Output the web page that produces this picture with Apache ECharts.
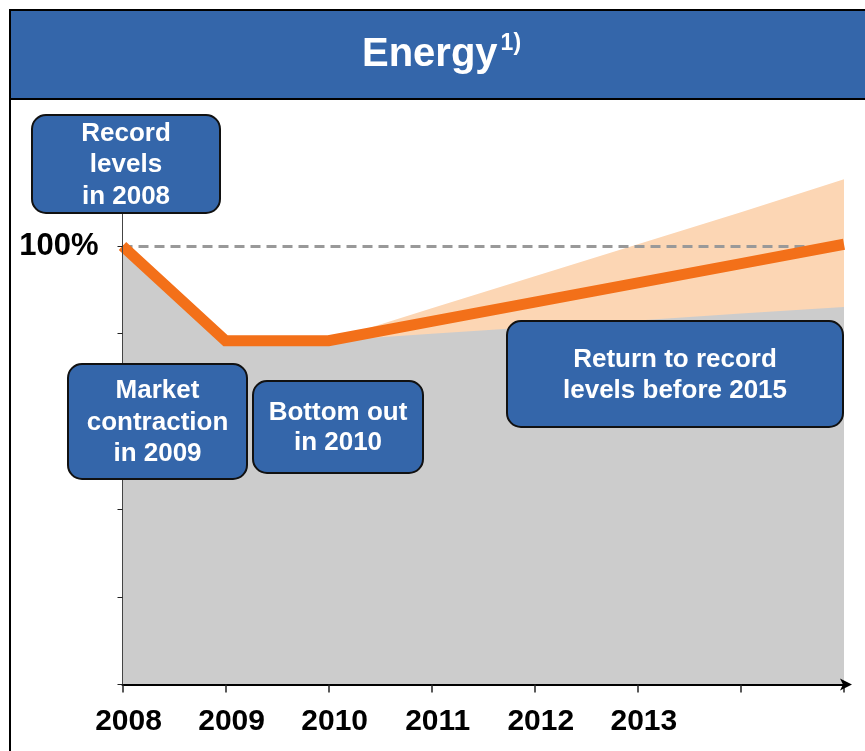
<!DOCTYPE html>
<html>
<head>
<meta charset="utf-8">
<script src="https://cdn.jsdelivr.net/npm/echarts@6/dist/echarts.min.js"></script>
<style>
html, body { margin: 0; padding: 0; background: #fff; }
#chart { width: 865px; height: 751px; }
</style>
</head>
<body>
<div id="chart"></div>
<script>
// years on the axis, only the first six carry a label
var years = ['2008', '2009', '2010', '2011', '2012', '2013', '2014', '2015'];
var shownYears = ['2008', '2009', '2010', '2011', '2012', '2013'];

// market volume, 2008 = 100%
var marketLine = [100, 78.4, 78.4, 82.8, 87.2, 91.6, 96.0, 100.4];
var lowerCase = [100, 78.4, 78.4, 80.0, 81.5, 83.0, 84.6, 86.1];
var upperCase = [null, null, 78.4, 85.8, 93.1, 100.4, 107.7, 115.2];
var recordLevel = 100;

var BLUE = '#3466AA';
var ORANGE = '#F37019';
var PEACH = '#FCD6B4';
var GREY = '#CCCCCC';
var FONT = '"Liberation Sans", Arial, sans-serif';
var boxFont = 'bold 26px ' + FONT;

function noteBox(x, y, w, h, lines, lh) {
    return {
        type: 'group',
        z: 100,
        children: [{
            type: 'rect',
            z: 100,
            shape: {x: x, y: y, width: w, height: h, r: 14},
            style: {fill: BLUE, stroke: '#111', lineWidth: 2}
        }, {
            type: 'text',
            z: 101,
            style: {
                x: x + w / 2,
                y: y + h / 2 + 1,
                text: lines.join('\n'),
                font: boxFont,
                lineHeight: lh,
                fill: '#fff',
                align: 'center',
                verticalAlign: 'middle'
            }
        }]
    };
}

var myChart = echarts.init(document.getElementById('chart'));
var option = {
    backgroundColor: '#fff',
    animation: false,
    title: {
        text: '{a|Energy}{b|1)}',
        left: 362,
        top: 32,
        padding: 0,
        z: 20,
        textStyle: {
            rich: {
                a: {
                    color: '#fff',
                    fontSize: 40,
                    fontWeight: 'bold',
                    fontFamily: FONT,
                    lineHeight: 46
                },
                b: {
                    color: '#fff',
                    fontSize: 23,
                    fontWeight: 'bold',
                    fontFamily: FONT,
                    lineHeight: 24,
                    padding: [0, 0, 0, 3],
                    verticalAlign: 'top'
                }
            }
        }
    },
    grid: {
        left: 122.5,
        right: 21,
        top: 158.3,
        bottom: 66.5
    },
    xAxis: {
        type: 'category',
        data: years,
        boundaryGap: false,
        z: 10,
        axisLine: {
            lineStyle: {color: '#000', width: 2},
            symbol: ['none', 'arrow'],
            symbolSize: [9, 12],
            symbolOffset: [0, 8]
        },
        axisTick: {
            length: 8,
            lineStyle: {color: '#222', width: 1.5}
        },
        axisLabel: {
            margin: 22,
            color: '#000',
            fontSize: 30,
            fontWeight: 'bold',
            fontFamily: FONT,
            interval: 0,
            padding: [0, 0, 0, 12],
            formatter: function (v) {
                return shownYears.indexOf(v) >= 0 ? v : '';
            }
        },
        splitLine: {show: false}
    },
    yAxis: {
        type: 'value',
        min: 0,
        max: 120,
        interval: 20,
        z: 10,
        axisLine: {
            show: true,
            lineStyle: {color: '#444', width: 1}
        },
        axisTick: {
            show: true,
            length: 5,
            lineStyle: {color: '#222'}
        },
        axisLabel: {
            margin: 24,
            color: '#000',
            fontSize: 31,
            fontWeight: 'bold',
            fontFamily: FONT,
            padding: [12, 0, 0, 0],
            formatter: function (v) {
                return v === recordLevel ? v + '%' : '';
            }
        },
        splitLine: {show: false}
    },
    series: [
        {
            name: 'upper',
            type: 'line',
            data: upperCase,
            symbol: 'none',
            lineStyle: {width: 0},
            areaStyle: {color: PEACH, opacity: 1},
            z: 2
        },
        {
            name: 'lower',
            type: 'line',
            data: lowerCase,
            symbol: 'none',
            lineStyle: {width: 0},
            areaStyle: {color: GREY, opacity: 1},
            z: 3,
            markLine: {
                silent: true,
                symbol: 'none',
                label: {show: false},
                lineStyle: {color: '#999', type: [10, 6], width: 3},
                data: [{yAxis: recordLevel}]
            }
        },
        {
            name: 'market',
            type: 'line',
            data: marketLine,
            symbol: 'none',
            lineStyle: {color: ORANGE, width: 11, cap: 'butt', join: 'miter'},
            z: 5
        }
    ],
    graphic: [
        {
            type: 'rect',
            z: 1,
            shape: {x: 10, y: 10, width: 900, height: 800},
            style: {fill: 'none', stroke: '#000', lineWidth: 2}
        },
        {
            type: 'rect',
            z: 1,
            shape: {x: 10, y: 10, width: 900, height: 89},
            style: {fill: BLUE, stroke: '#000', lineWidth: 2}
        },
        noteBox(32, 115, 188, 98, ['Record', 'levels', 'in 2008'], 31.5),
        noteBox(68, 364, 179, 115, ['Market', 'contraction', 'in 2009'], 31.5),
        noteBox(253, 381, 170, 92, ['Bottom out', 'in 2010'], 30),
        noteBox(507, 321, 336, 106, ['Return to record', 'levels before 2015'], 31)
    ]
};
myChart.setOption(option);
</script>
</body>
</html>
